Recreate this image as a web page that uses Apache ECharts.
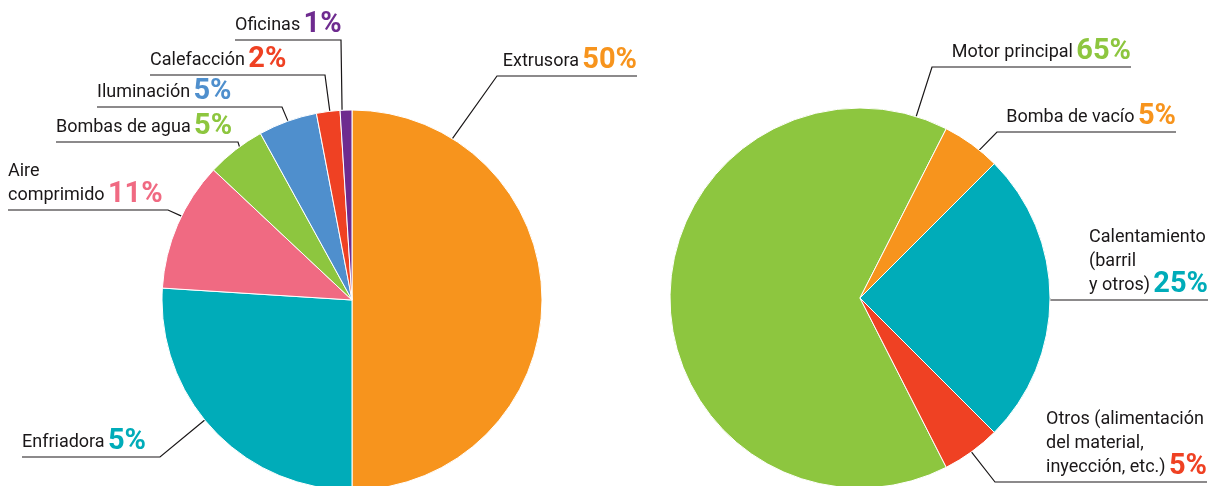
<!DOCTYPE html>
<html>
<head>
<meta charset="utf-8">
<script src="https://cdn.jsdelivr.net/npm/echarts@6/dist/echarts.min.js"></script>
<style>
  html, body { margin: 0; padding: 0; background: #fff; }
  #main { width: 1217px; height: 486px; }
</style>
</head>
<body>
<div id="main"></div>
<script>
// datos - consumo por proceso (izquierda) y por componente de la extrusora (derecha)
const leftNames = ["Extrusora", "Enfriadora", "Aire\ncomprimido", "Bombas de agua", "Iluminación", "Calefacción", "Oficinas"];
const leftValues = [50, 26, 11, 5, 5, 2, 1];
const leftLabels = ["50%", "5%", "11%", "5%", "5%", "2%", "1%"];
const leftColors = ["#f7941d", "#00acb9", "#f06a82", "#8dc63f", "#4f8fcd", "#ef4123", "#6e2b8f"];

const rightNames = ["Motor principal", "Bomba de vacío", "Calentamiento\n(barril\ny otros)", "Otros (alimentación\ndel material,\ninyección, etc.)"];
const rightValues = [65, 5, 25, 5];
const rightLabels = ["65%", "5%", "25%", "5%"];
const rightColors = ["#8dc63f", "#f7941d", "#00acb9", "#ef4123"];

// guias: [angulo de anclaje (grados, horario desde las 12), codo x, codo y, fin x]
const leftGuides = [
  [31.9, 497, 76, 637],
  [230.8, 160, 457, 22],
  [296.2, 168, 210, 8],
  [323.7, 238, 142, 56],
  [340.3, 282, 107, 97],
  [353.3, 325, 75, 150],
  [357, 341, 40, 235],
];
const rightGuides = [
  [17.2, 932, 67, 1131],
  [38.9, 997, 132, 1176],
  [90, 1049, 300, 1208],
  [144.1, 995, 482, 1207],
];

const R = 190;
const nameFont = "Roboto, 'Liberation Sans', sans-serif";

function makeSeries(names, values, labels, colors, guides, center, startAngle) {
  let rich = {
    n: { fontFamily: nameFont, fontSize: 18, color: "#1a1718", lineHeight: 24 },
  };
  colors.forEach((c, i) => {
    rich["p" + i] = { fontFamily: nameFont, fontWeight: "bold", fontSize: 29, color: c, lineHeight: 24 };
  });
  return {
    type: "pie",
    center: center,
    radius: R,
    startAngle: startAngle,
    clockwise: true,
    avoidLabelOverlap: false,
    animation: false,
    emphasis: { scale: false },
    itemStyle: { borderColor: "#fff", borderWidth: 1 },
    label: {
      show: true,
      position: "outside",
      rich: rich,
      formatter: (p) => {
        let lines = p.name.split("\n").map((l) => "{n|" + l + "}");
        lines[lines.length - 1] += " {p" + p.dataIndex + "|" + labels[p.dataIndex] + "}";
        return lines.join("\n");
      },
    },
    labelLine: { show: true, lineStyle: { color: "#1a1718", width: 1.2 } },
    labelLayout: (p) => {
      let g = guides[p.dataIndex];
      let a = (g[0] * Math.PI) / 180;
      let x0 = center[0] + R * Math.sin(a);
      let y0 = center[1] - R * Math.cos(a);
      let toLeft = g[3] < g[1];
      return {
        x: toLeft ? g[3] : g[3] - p.labelRect.width,
        y: g[2] - 3,
        align: "left",
        verticalAlign: "bottom",
        labelLinePoints: [[x0, y0], [g[1], g[2]], [g[3], g[2]]],
      };
    },
    data: names.map((n, i) => ({ name: n, value: values[i], itemStyle: { color: colors[i] } })),
  };
}

let myChart = echarts.init(document.getElementById("main"));
myChart.setOption({
  animation: false,
  series: [
    makeSeries(leftNames, leftValues, leftLabels, leftColors, leftGuides, [352, 300], 90),
    makeSeries(rightNames, rightValues, rightLabels, rightColors, rightGuides, [860, 298], 297),
  ],
});
</script>
</body>
</html>
